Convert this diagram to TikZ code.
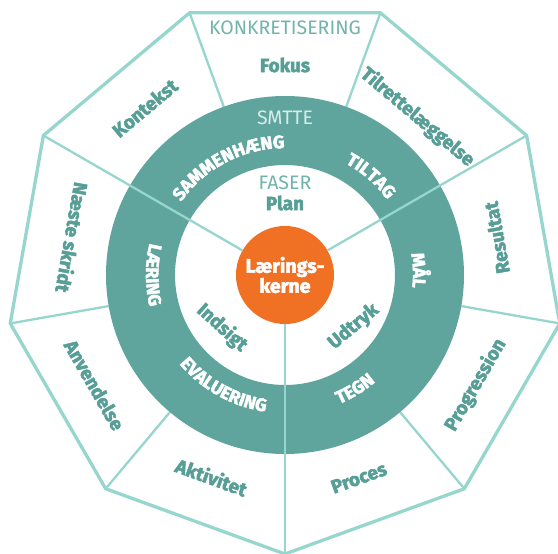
\documentclass[tikz,border=0pt]{standalone}
\usepackage{fontspec}
\setmainfont{Fira Sans}[BoldFeatures={FakeBold=2.5}]
\usetikzlibrary{decorations.text}
\definecolor{linec}{HTML}{97D6CE}
\definecolor{ringc}{HTML}{5FA59D}
\definecolor{textc}{HTML}{569E96}
\definecolor{lighttxt}{HTML}{72B3AB}
\definecolor{smttec}{HTML}{D6EEEA}
\definecolor{orangec}{HTML}{F07124}
\newcommand\ringfnt{\bfseries\fontsize{18}{19}\selectfont}
\begin{document}
\begin{tikzpicture}[x=1pt,y=1pt,
  outline/.style={draw=linec, line width=3.3pt, line join=miter},
  spoke/.style={draw=linec, line width=2.3pt},
  outerlbl/.style={text=textc, font=\bfseries\fontsize{19}{20}\selectfont, inner sep=0pt},
  lightlbl/.style={text=lighttxt, font=\fontsize{19.5}{20}\selectfont, inner sep=0pt},
  ringlbl/.style={decorate, decoration={text along path, text align=center, text color=white}}
]
\useasboundingbox (-285,-279) rectangle (273,275);
% nonagon vertices
\foreach \i/\a in {1/-90,2/-50,3/-10,4/30,5/70,6/110,7/150,8/190,9/230}
  \coordinate (v\i) at (\a:279);
\foreach \i/\a in {2/-50,3/-10,5/70,6/110,8/190,9/230}
  \coordinate (r\i) at (\a:179);
\draw[outline, fill=white] (v1)--(v2)--(v3)--(v4)--(v5)--(v6)--(v7)--(v8)--(v9)--cycle;
\foreach \i in {2,3,5,6,8,9}
  \draw[spoke] (v\i) -- (r\i);
% ring
\fill[ringc, even odd rule] (0,0) circle[radius=179] (0,0) circle[radius=110];
% core
\node[circle, fill=orangec, minimum size=98pt, inner sep=0pt, align=center,
      text=white, font=\bfseries\fontsize{19.5}{20}\selectfont] (core) at (0,0) {Lærings-\\kerne};
\foreach \i in {1,4,7}
  \draw[spoke] (core) -- (v\i);
% outer labels
\node[lightlbl] (konk) at (90:247) {KONKRETISERING};
\node[outerlbl] (fokus) at (90:210) {Fokus};
\node[outerlbl, rotate=-40] (tilr) at (50:206) {Tilrettelæggelse};
\node[outerlbl, rotate=100] (res) at (10:215) {Resultat};
\node[outerlbl, rotate=60] (prog) at (-30:220) {Progression};
\node[outerlbl, rotate=20] (proc) at (-70:216) {Proces};
\node[outerlbl, rotate=-20] (akt) at (-110:215) {Aktivitet};
\node[outerlbl, rotate=-60] (anv) at (210:220) {Anvendelse};
\node[outerlbl, rotate=-100] (naeste) at (170:216) {Næste skridt};
\node[outerlbl, rotate=40] (kont) at (130:218) {Kontekst};
% inner labels
\node[lightlbl, text=smttec] (smtte) at (90:157) {SMTTE};
\node[lightlbl] (faser) at (90:92) {FASER};
\node[outerlbl] (plan) at (90:72) {Plan};
\node[outerlbl, rotate=-42] (inds) at (-140:82) {Indsigt};
\node[outerlbl, rotate=40] (udt) at (-37:86) {Udtryk};
% ring labels
\path[ringlbl, decoration={text={|\ringfnt|SAMMENHÆNG}}] (150:127) arc[start angle=150, end angle=85, radius=127];
\path[ringlbl, decoration={text={|\ringfnt|TILTAG}}] (75:127) arc[start angle=75, end angle=23, radius=127];
\path[ringlbl, decoration={text={|\ringfnt|MÅL}}] (28:128) arc[start angle=28, end angle=-24, radius=128];
\path[ringlbl, decoration={text={|\ringfnt|LÆRING}}] (150:139) arc[start angle=150, end angle=210, radius=139];
\path[ringlbl, decoration={text={|\ringfnt|EVALUERING}}] (211:138) arc[start angle=211, end angle=271, radius=138];
\path[ringlbl, decoration={text={|\ringfnt|TEGN}}] (-85:140) arc[start angle=-85, end angle=-32, radius=140];
\end{tikzpicture}
\end{document}
